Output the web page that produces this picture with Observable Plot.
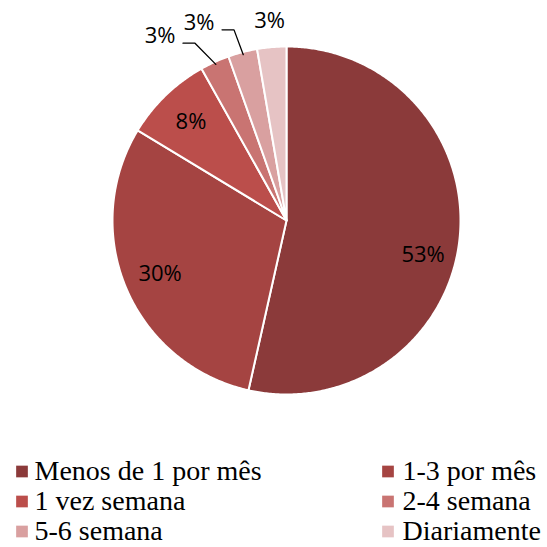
<!DOCTYPE html>
<html>
<head>
<meta charset="utf-8">
<script src="https://cdn.jsdelivr.net/npm/d3@7"></script>
<script src="https://cdn.jsdelivr.net/npm/@observablehq/plot@0.6"></script>
<style>
  html, body { margin: 0; padding: 0; background: #fff; }
  #chart { width: 547px; height: 547px; overflow: hidden; }
  #chart svg { display: block; }
</style>
</head>
<body>
<div id="chart"></div>
<script>
const categories = ["Menos de 1 por mês", "1-3 por mês", "1 vez semana", "2-4 semana", "5-6 semana", "Diariamente"];
const values = [53.4, 30.1, 8.2, 2.7, 2.7, 2.7];
const labels = ["53%", "30%", "8%", "3%", "3%", "3%"];
const colors = ["#8b3a3a", "#a54442", "#bb4e4b", "#c97472", "#d9a0a0", "#e6c3c4"];

const W = 547, H = 440, R = 174, CX = 286, CY = 220;

const pie = d3.pie().sort(null).value(d => d)(values);

// slice polygons in unit (radius=1) coordinates; angle from 12 o'clock clockwise
const polar = (a, r) => [r * Math.sin(a), r * Math.cos(a)];
const slices = pie.map((p, i) => {
  const pts = [{x: 0, y: 0}];
  const n = Math.max(2, Math.ceil((p.endAngle - p.startAngle) / (Math.PI / 360)));
  for (let k = 0; k <= n; k++) {
    const a = p.startAngle + (p.endAngle - p.startAngle) * k / n;
    const [x, y] = polar(a, 1);
    pts.push({x, y});
  }
  return {i, pts};
});

// label placement (inside for large slices, outside with leaders for small ones)
const labelOpts = [
  {r: 0.79, dy: 19},
  {r: 0.79, dy: 0},
  {r: 0.79, dy: 0},
  {r: 1.15, sx: -44 / R, dy: -2, leader: true},
  {r: 1.15, sx: -37 / R, dy: -4, leader: true},
  {r: 1.15, sx: 0, dy: 0, leader: false}
];
const labelData = pie.map((p, i) => {
  const mid = (p.startAngle + p.endAngle) / 2;
  const o = labelOpts[i];
  let [x, y] = polar(mid, o.r);
  if (o.sx) x += o.sx;
  return {i, x, y, text: labels[i], dy: o.dy || 0, mid, leader: o.leader};
});
const leaders = labelData.filter(d => d.leader).map(d => {
  const [ex, ey] = polar(d.mid, 0.985);
  return [
    {x: d.x + 23 / R, y: d.y - (7 + d.dy) / R},
    {x: d.x + 35 / R, y: d.y - (7 + d.dy) / R},
    {x: ex, y: ey}
  ];
});

const marks = [];
slices.forEach(s => {
  marks.push(Plot.line(s.pts, {x: "x", y: "y", curve: "linear-closed", fill: colors[s.i], stroke: "white", strokeWidth: 2, strokeLinejoin: "round"}));
});
leaders.forEach(l => {
  marks.push(Plot.line(l, {x: "x", y: "y", stroke: "black", strokeWidth: 1.3}));
});
labelData.forEach(d => {
  marks.push(Plot.text([d], {x: "x", y: "y", text: "text", dy: d.dy, fontSize: 22, fill: "black", fontFamily: "'Open Sans', 'Liberation Sans', Arial, sans-serif"}));
});

const chart = Plot.plot({
  width: W,
  height: H,
  margin: 0,
  style: {background: "white", overflow: "visible"},
  x: {domain: [-CX / R, (W - CX) / R], axis: null},
  y: {domain: [-(H - CY) / R, CY / R], axis: null},
  marks
});

// legend (below the chart), two columns x three rows
const LH = 547 - H;
const legendData = categories.map((c, i) => ({name: c, color: colors[i], col: i % 2, row: Math.floor(i / 2)}));
const colSwatch = [21.5, 387.5], colText = [34, 402], rowCenter = [31, 61, 91];
const legend = Plot.plot({
  width: W,
  height: LH,
  margin: 0,
  style: {background: "white", overflow: "visible"},
  x: {domain: [0, W], axis: null},
  y: {domain: [LH, 0], axis: null},
  marks: [
    Plot.dot(legendData, {x: d => colSwatch[d.col], y: d => rowCenter[d.row], symbol: "square", r: 6.6, fill: d => d.color, stroke: null}),
    Plot.text(legendData, {x: d => colText[d.col], y: d => rowCenter[d.row], text: "name", textAnchor: "start", lineAnchor: "middle", fontSize: 28, fontFamily: "'Liberation Serif', 'Times New Roman', serif", fill: "black"})
  ],
  color: {type: "identity"}
});

const root = document.getElementById("chart");
root.appendChild(chart);
root.appendChild(legend);
</script>
</body>
</html>
